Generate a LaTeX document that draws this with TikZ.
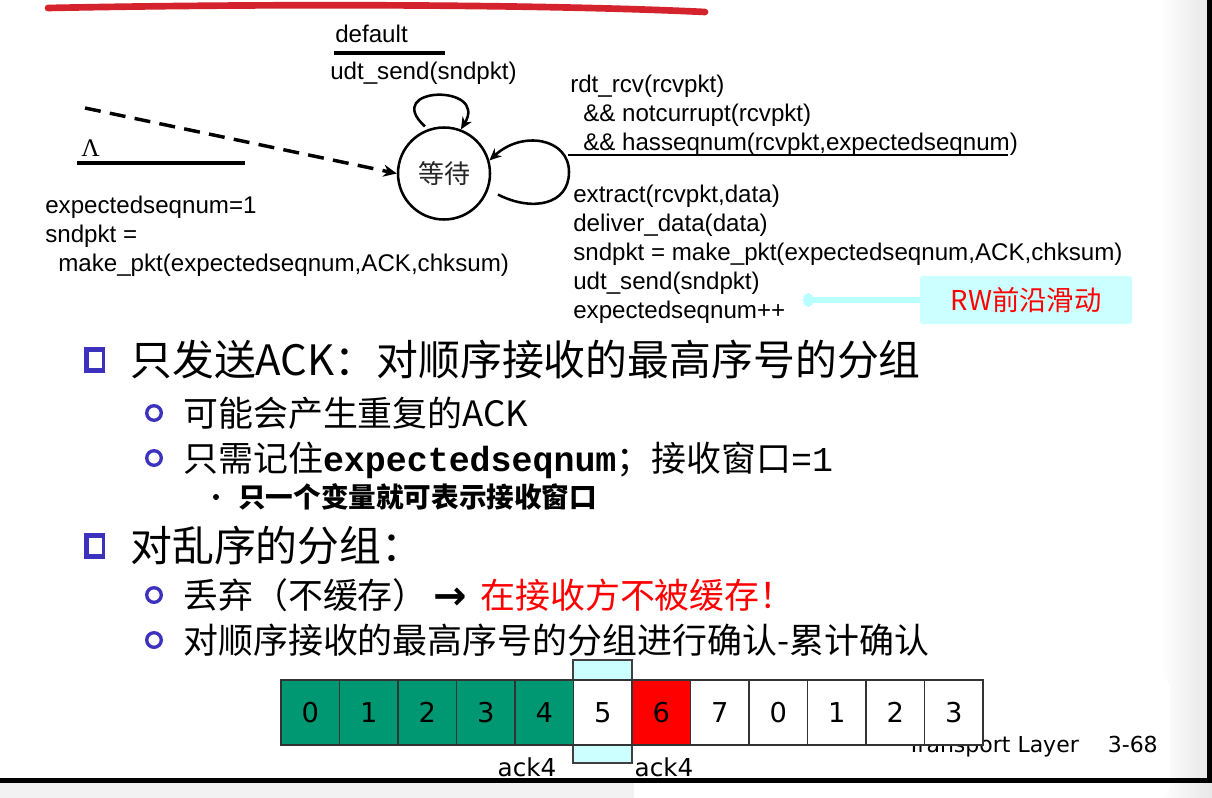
\documentclass[tikz,border=0pt]{standalone}
\usepackage{fontspec}
\setmainfont{Liberation Sans}
\newfontfamily\cjk{Noto Sans CJK SC}
\newfontfamily\grserif{Liberation Serif}
\newfontfamily\comic{DejaVu Sans}
\newfontfamily\monof{Liberation Mono}
\usetikzlibrary{arrows.meta,calc}
\definecolor{grn}{RGB}{0,152,114}
\definecolor{lcyan}{RGB}{204,255,255}
\definecolor{acyan}{RGB}{185,255,255}
\definecolor{bulletblue}{RGB}{60,50,190}
\definecolor{topred}{RGB}{212,35,45}
\begin{document}
\begin{tikzpicture}[x=0.75pt,y=-0.75pt,
  fsm/.style={inner sep=0pt, anchor=base west, font=\fontsize{18.1}{21}\selectfont},
  bar/.style={line width=2.4pt},
  thinbar/.style={line width=1.5pt},
  state/.style={circle, draw=black, line width=1.9pt, minimum size=69pt, inner sep=0pt, font=\cjk\fontsize{19.5}{22}\selectfont, text=black!85},
  loopline/.style={line width=1.9pt, -{Stealth[length=9pt,width=8pt]}},
  dasharrow/.style={line width=2.6pt, dash pattern=on 12pt off 7pt, -{Stealth[length=10pt,width=9pt]}},
  hb/.style={inner sep=0pt, anchor=base west, font=\cjk\fontsize{31.4}{36}\selectfont},
  sb/.style={inner sep=0pt, anchor=base west, font=\cjk\fontsize{26.2}{30}\selectfont},
  ssb/.style={inner sep=0pt, anchor=base west, font=\cjk\bfseries\fontsize{20.7}{24}\selectfont},
  cell/.style={draw=black!80, line width=0.9pt, minimum width=43.875pt, minimum height=48.75pt, inner sep=0pt, font=\comic\fontsize{20.5}{24}\selectfont},
  ring/.style={draw=bulletblue, line width=2.5pt},
  comictext/.style={inner sep=0pt, font=\comic\fontsize{18.5}{22}\selectfont},
  rwbox/.style={fill=lcyan, rounded corners=2pt, minimum width=159pt, minimum height=36pt, inner sep=0pt, text=red, font=\cjk\fontsize{20.5}{24}\selectfont},
  rwarrow/.style={draw=acyan, line width=5pt, -{Circle[length=8pt,width=10pt]}}
]
\useasboundingbox (0,0) rectangle (1212,798);
% background
\fill[white] (0,0) rectangle (1212,798);
\shade[left color=white, right color=black!9] (1160,0) rectangle (1207,780);
\fill[black!5] (0,783) rectangle (634,798);
\shade[left color=white, right color=black!9] (1160,783) rectangle (1212,798);
\fill[white, rounded corners=10pt] (634,676) rectangle (1170,798);

% top red stroke
\draw[topred, line width=5pt, line cap=round] (48,8) .. controls (300,3) and (560,5) .. (705,12);

% FSM
\node[state] (S) at (444,173.5) {等待};

\node[fsm] (dflt) at (335,43) {default};
\coordinate (d1) at (334,53); \coordinate (d2) at (445,53);
\draw[bar] (d1) -- (d2);
\node[fsm] (uds) at (330,80) {udt\_send(sndpkt)};

\draw[loopline, shorten <=3pt] (S.110) .. controls +(-47,-43) and +(28,-46) .. (S.69);

\node[fsm] (c1) at (570,93) {rdt\_rcv(rcvpkt)};
\node[fsm] (c2) at (583,122) {\&\& notcurrupt(rcvpkt)};
\node[fsm] (c3) at (583,151) {\&\& hasseqnum(rcvpkt,expectedseqnum)};
\coordinate (u1) at (568,155); \coordinate (u2) at (1008,155);
\draw[thinbar] (u1) -- (u2);

\draw[loopline, shorten <=8pt] (S.-20) .. controls (532,212) and (569,205) .. (569,172) .. controls (569,138) and (522,130) .. (S.16);

\node[fsm] (a1) at (573,203) {extract(rcvpkt,data)};
\node[fsm] (a2) at (573,232) {deliver\_data(data)};
\node[fsm] (a3) at (573,261) {sndpkt = make\_pkt(expectedseqnum,ACK,chksum)};
\node[fsm] (a4) at (573,290) {udt\_send(sndpkt)};
\node[fsm] (a5) at (573,319) {expectedseqnum++};

\coordinate (dstart) at (85,108);
\draw[dasharrow] (dstart) -- (S.west);

\node[inner sep=0pt, anchor=base west, font=\grserif\fontsize{19}{22}\selectfont] (lam) at (81,157) {Λ};
\coordinate (l1a) at (77,163); \coordinate (l1b) at (245,163);
\draw[bar] (l1a) -- (l1b);
\node[fsm] (i1) at (45,214) {expectedseqnum=1};
\node[fsm] (i2) at (45,243) {sndpkt =};
\node[fsm] (i3) at (58,272) {make\_pkt(expectedseqnum,ACK,chksum)};

% RW box
\node[rwbox] (rw) at (1026,300) {RW前沿滑动};
\coordinate (rwtip) at (803,300);
\draw[rwarrow] (rw.west) -- (rwtip);

% bullets
\fill[bulletblue] (84,347) rectangle (105,373);
\fill[white] (89,351.5) rectangle (102,368);
\node[hb] (h1) at (130,375) {只发送ACK：对顺序接收的最高序号的分组};

\draw[ring] (154,413) circle (7.3);
\node[sb] (s1) at (183,426) {可能会产生重复的ACK};

\draw[ring] (154,458) circle (7.3);
\node[sb] (s2) at (183,471) {只需记住{\monof\bfseries expectedseqnum}；接收窗口{\monof =1}};

\fill[black] (216,497) circle (3);
\node[ssb] (ss1) at (238,507) {只一个变量就可表示接收窗口};

\fill[bulletblue] (84,533) rectangle (105,559);
\fill[white] (89,537.5) rectangle (102,554);
\node[hb] (h2) at (130,561) {对乱序的分组：};

\draw[ring] (154,595) circle (7.3);
\node[sb] (s3) at (183,608) {丢弃（不缓存）};
\node[inner sep=0pt, anchor=base west, font=\comic\bfseries\fontsize{30}{34}\selectfont] (arr) at (433,609) {→};
\node[sb, text=red] (s3r) at (480,608) {在接收方不被缓存！};

\draw[ring] (154,640) circle (7.3);
\node[sb] (s4) at (183,653) {对顺序接收的最高序号的分组进行确认-累计确认};

% bottom sequence
\node[comictext, anchor=base west, font=\comic\fontsize{16.5}{20}\selectfont] (tl) at (907,752) {Transport Layer};
\node[comictext, anchor=base east, font=\comic\fontsize{16.5}{20}\selectfont] (pg) at (1158,752) {3-68};

\filldraw[fill=lcyan, draw=black!75, line width=1pt] (573,660) rectangle (632,763);
\foreach \i/\n/\c in {0/0/grn,1/1/grn,2/2/grn,3/3/grn,4/4/grn,5/5/white,6/6/red,7/7/white,8/0/white,9/1/white,10/2/white,11/3/white}
  \node[cell, fill=\c] (b\i) at ({281+58.5*\i+29.25},712.5) {\n};

\node[comictext, anchor=base] (k1) at (527,776) {ack4};
\node[comictext, anchor=base] (k2) at (664,776) {ack4};

% frame lines
\draw[line width=3.5pt] (1209.5,0) -- (1209.5,782);
\draw[line width=3.7pt] (0,780.5) -- (1212,780.5);
\end{tikzpicture}
\end{document}
